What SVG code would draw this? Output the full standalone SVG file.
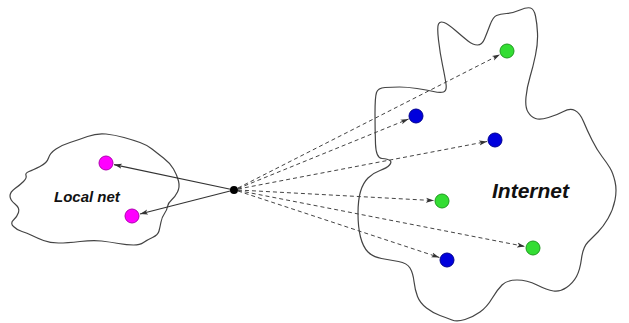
<svg xmlns="http://www.w3.org/2000/svg" width="629" height="323" viewBox="0 0 629 323">
<style>
.cloud{fill:#fff;stroke:#444;stroke-width:1.2}
.lbl{font-family:"Liberation Sans",Arial,sans-serif;font-weight:bold;font-style:italic;fill:#111}
.mag{fill:#ff00ff;stroke:#b000b0;stroke-width:1}
.grn{fill:#33dd33;stroke:#1f9a1f;stroke-width:1}
.blu{fill:#0000dd;stroke:#000090;stroke-width:1}
.solid{stroke:#333;stroke-width:1.2;fill:none;marker-end:url(#ah)}
.dash{stroke:#444;stroke-width:1;stroke-dasharray:4,3;fill:none;marker-end:url(#ah)}
</style>
<defs>
<marker id="ah" markerUnits="userSpaceOnUse" markerWidth="9" markerHeight="6" refX="8" refY="3" orient="auto">
<path d="M0,0.5 L8,3 L0,5.5 L2,3 z" fill="#333"/>
</marker>
</defs>
<rect width="629" height="323" fill="#fff"/>
<g id="local-net">
<path class="cloud" d="M48.5,158 Q50,153 56,149 Q62,145 70,142.5 Q78,140 87.5,136.5 Q97,133 106,134 Q115,135 124,137.5 Q133,140 140,142.5 Q147,145 152,149 Q157,153 163.5,158 Q170,163 173.5,169 Q177,175 178.5,181 Q180,187 177.5,192 Q175,197 171.5,200 Q168,203 167.5,206.5 Q167,210 164.5,213.5 Q162,217 161,222 Q160,227 159,231 Q158,235 152.5,237.5 Q147,240 143.5,242.5 Q140,245 133.5,245 Q127,245 118.5,243.5 Q110,242 101.5,241 Q93,240 80,241.5 Q67,243 58.5,243 Q50,243 43.5,240.5 Q37,238 32,235.5 Q27,233 22,231.5 Q17,230 13.5,226.5 Q10,223 13.5,220 Q17,217 18.5,212.5 Q20,208 15,204 Q10,200 10,196 Q10,192 15,188.5 Q20,185 23.5,181.5 Q27,178 26,175.5 Q25,173 29,171.5 Q33,170 40,166.5 Q47,163 48.5,158 Z"/>
<text class="lbl" x="54" y="202" font-size="15">Local net</text>
</g>
<g id="internet">
<path class="cloud" d="M375,113.5 Q375,97 376.5,92.5 Q378,88 385,87.5 Q392,87 399.5,87 Q407,87 417,88.5 Q427,90 433.5,91.5 Q440,93 443.5,92 Q447,91 446,84 Q445,77 442.5,65 Q440,53 438.5,40 Q437,27 438.5,24 Q440,21 444,22.5 Q448,24 455.5,30.5 Q463,37 468,41 Q473,45 477.5,45 Q482,45 484.5,39 Q487,33 490,25 Q493,17 496.5,15.5 Q500,14 506.5,13.5 Q513,13 520,10 Q527,7 530.5,8 Q534,9 535.5,16 Q537,23 537.5,33 Q538,43 535.5,55 Q533,67 530,77 Q527,87 526,97 Q525,107 528,112 Q531,117 535.5,118.5 Q540,120 548.5,117.5 Q557,115 563.5,111.5 Q570,108 575,110.5 Q580,113 583.5,121.5 Q587,130 592,140 Q597,150 602,156.5 Q607,163 610,168 Q613,173 615,181.5 Q617,190 615,200 Q613,210 608,218.5 Q603,227 598,232 Q593,237 588,242 Q583,247 581.5,258.5 Q580,270 576.5,276.5 Q573,283 566.5,287.5 Q560,292 553.5,291 Q547,290 537,285 Q527,280 517,280 Q507,280 502,285 Q497,290 492,298.5 Q487,307 480,312 Q473,317 465,319.5 Q457,322 452,320 Q447,318 440,315.5 Q433,313 426.5,308 Q420,303 417.5,296.5 Q415,290 414,281.5 Q413,273 410,268 Q407,263 398.5,261.5 Q390,260 381.5,258.5 Q373,257 368,252 Q363,247 360.5,237 Q358,227 358,213.5 Q358,200 360.5,191.5 Q363,183 368,178 Q373,173 380,170.5 Q387,168 389.5,165 Q392,162 390,160.5 Q388,159 382,158.5 Q376,158 375.5,144 Q375,130 375,113.5 Z"/>
<text class="lbl" x="492" y="198" font-size="21">Internet</text>
</g>
<g id="connectors">
<line class="solid" x1="234" y1="190" x2="114" y2="164.6"/>
<line class="solid" x1="234" y1="190" x2="140" y2="214"/>
<line class="dash" x1="238" y1="188" x2="500" y2="54.6"/>
<line class="dash" x1="238" y1="188.5" x2="408.6" y2="119"/>
<line class="dash" x1="238" y1="189" x2="487.1" y2="141.5"/>
<line class="dash" x1="238" y1="190" x2="434" y2="200.6"/>
<line class="dash" x1="238" y1="190.5" x2="525" y2="246.5"/>
<line class="dash" x1="238" y1="191" x2="439.4" y2="257.5"/>
</g>
<g id="hub"><circle cx="234" cy="190" r="4" fill="#000"/></g>
<g id="local-host-1"><circle class="mag" cx="106" cy="163" r="7"/></g>
<g id="local-host-2"><circle class="mag" cx="132" cy="216" r="7"/></g>
<g id="inet-host-1"><circle class="grn" cx="507" cy="51" r="7"/></g>
<g id="inet-host-2"><circle class="blu" cx="416" cy="116" r="7"/></g>
<g id="inet-host-3"><circle class="blu" cx="495" cy="140" r="7"/></g>
<g id="inet-host-4"><circle class="grn" cx="442" cy="201" r="7"/></g>
<g id="inet-host-5"><circle class="grn" cx="533" cy="248" r="7"/></g>
<g id="inet-host-6"><circle class="blu" cx="447" cy="260" r="7"/></g>
</svg>
